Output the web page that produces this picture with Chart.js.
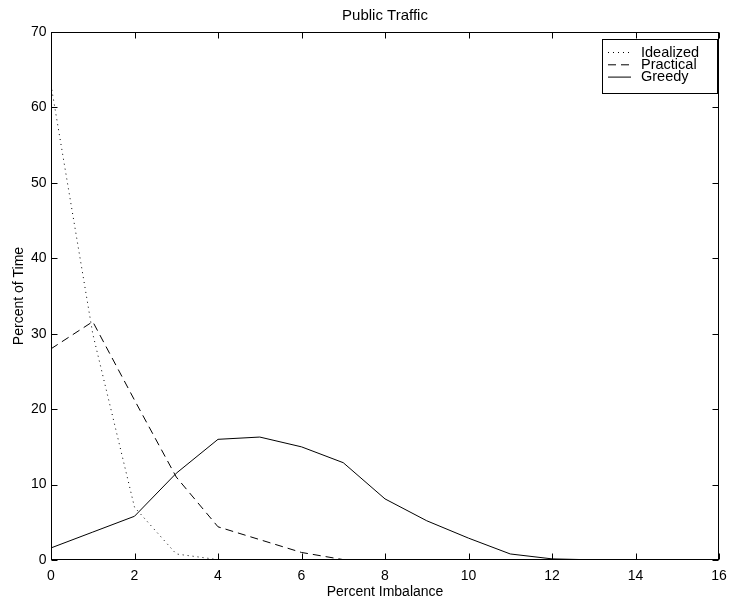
<!DOCTYPE html>
<html>
<head>
<meta charset="utf-8">
<script src="https://cdn.jsdelivr.net/npm/chart.js@4.4.1/dist/chart.umd.min.js"></script>
<style>
  html, body { margin: 0; padding: 0; background: #fff; }
  #wrap { width: 730px; height: 605px; }
</style>
</head>
<body>
<div id="wrap"><canvas id="trafficChart" width="730" height="605"></canvas></div>
<script>
// values, one point per percent of imbalance
const imbalance = [0, 1, 2, 3, 4, 5, 6, 7, 8, 9, 10, 11, 12, 13];
const idealized = [63, 30, 7, 0.8, 0.05];
const practical = [28, 31.6, 21.2, 11, 4.4, 2.7, 1, 0.05];
const greedy = [1.6, 3.7, 5.8, 11.5, 16, 16.3, 15, 12.9, 8.1, 5.2, 2.9, 0.8, 0.15, 0.02];
const chartTitle = 'Public Traffic';

const FONT = "'Liberation Sans', Arial, Helvetica, sans-serif";

function points(values) {
    return values.map((v, i) => ({ x: imbalance[i], y: v }));
}

// matlab style box, inward ticks, title over the axes and legend
const axesBox = {
    id: 'axesBox',
    afterDraw(chart) {
        const ctx = chart.ctx;
        const a = chart.chartArea;
        const L = Math.round(a.left) + 0.5, R = Math.round(a.right) - 0.5;
        const T = Math.round(a.top) + 0.5, B = Math.round(a.bottom) - 0.5;
        const tick = 6;
        ctx.save();
        ctx.strokeStyle = '#000';
        ctx.lineWidth = 1;
        ctx.setLineDash([]);
        ctx.beginPath();
        chart.scales.x.ticks.forEach(t => {
            const px = Math.round(chart.scales.x.getPixelForValue(t.value)) + 0.5;
            ctx.moveTo(px, B); ctx.lineTo(px, B - tick);
            ctx.moveTo(px, T); ctx.lineTo(px, T + tick);
        });
        chart.scales.y.ticks.forEach(t => {
            const py = Math.round(chart.scales.y.getPixelForValue(t.value)) + 0.5;
            ctx.moveTo(L, py); ctx.lineTo(L + tick, py);
            ctx.moveTo(R, py); ctx.lineTo(R - tick, py);
        });
        ctx.stroke();
        ctx.strokeRect(L, T, R - L, B - T);

        ctx.fillStyle = '#000';
        ctx.font = '15px ' + FONT;
        ctx.textAlign = 'center';
        ctx.textBaseline = 'middle';
        ctx.fillText(chartTitle, (a.left + a.right) / 2, 15.5);

        // legend
        const lx = 602.5, ly = 39.5, lw = 115, lh = 54;
        ctx.fillStyle = '#fff';
        ctx.fillRect(lx, ly, lw, lh);
        ctx.strokeRect(lx, ly, lw, lh);
        ctx.font = '14.5px ' + FONT;
        ctx.textAlign = 'left';
        chart.data.datasets.forEach((ds, i) => {
            const y = 52.5 + i * 12.3;
            ctx.beginPath();
            ctx.setLineDash(ds.borderDash || []);
            ctx.moveTo(608, y);
            ctx.lineTo(631, y);
            ctx.stroke();
            ctx.fillStyle = '#000';
            ctx.fillText(ds.label, 641, y);
        });
        ctx.restore();
    }
};

const ctx = document.getElementById('trafficChart').getContext('2d');
const trafficChart = new Chart(ctx, {
    type: 'line',
    data: {
        datasets: [
            { label: 'Idealized', data: points(idealized), borderDash: [1, 4] },
            { label: 'Practical', data: points(practical), borderDash: [8, 5] },
            { label: 'Greedy', data: points(greedy) }
        ].map(ds => Object.assign({
            borderColor: '#000',
            borderWidth: 1,
            pointRadius: 0,
            fill: false,
            tension: 0
        }, ds))
    },
    options: {
        responsive: false,
        animation: false,
        devicePixelRatio: 1,
        layout: { padding: { top: 32, right: 11 } },
        plugins: {
            legend: { display: false },
            tooltip: { enabled: false },
            title: { display: false }
        },
        scales: {
            x: {
                type: 'linear',
                min: 0,
                max: 16,
                afterFit(s) {
                    s.height = 45;
                    s.paddingLeft = 0;
                    s.paddingRight = 0;
                },
                grid: { display: false, drawTicks: false },
                border: { display: false },
                ticks: { stepSize: 2, padding: 8, color: '#000', font: { family: FONT, size: 14 } },
                title: {
                    display: true,
                    text: 'Percent Imbalance',
                    color: '#000',
                    font: { family: FONT, size: 14 },
                    padding: { top: 0, bottom: 4.6 }
                }
            },
            y: {
                min: 0,
                max: 70,
                afterFit(s) { s.width = 51; },
                grid: { display: false, drawTicks: false },
                border: { display: false },
                ticks: { stepSize: 10, padding: 4.5, color: '#000', font: { family: FONT, size: 14 } },
                title: {
                    display: true,
                    text: 'Percent of Time',
                    color: '#000',
                    font: { family: FONT, size: 14 },
                    padding: { top: 10.6, bottom: 0 }
                }
            }
        }
    },
    plugins: [axesBox]
});
</script>
</body>
</html>
